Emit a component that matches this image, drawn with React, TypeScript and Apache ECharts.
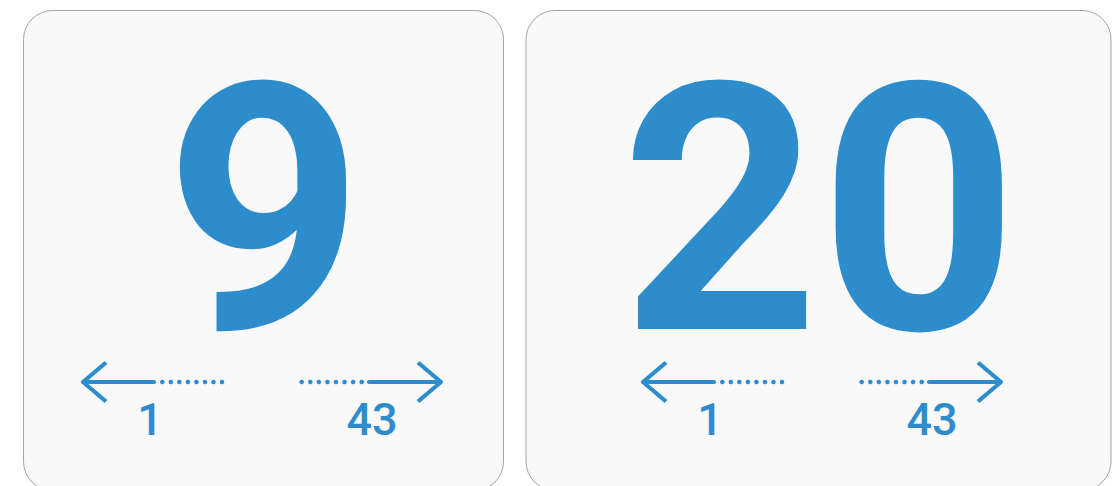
import React, { useEffect, useRef } from "react";
import * as echarts from "echarts";

// ---- data ----
const values: number[] = [9, 20];
const minLabels: string[] = ["1", "1"];
const maxLabels: string[] = ["43", "43"];

// ---- layout / style ----
const BLUE = "#2d8dcc";
const CARD_FILL = "#f9f9f9";
const CARD_STROKE = "#a3a3a3";
const FONT = "Roboto, 'Noto Sans', sans-serif";

const cardLeft = [23.5, 526];
const cardWidth = [480, 585];
const arrowShift = [-1.5, 3.5];
const cardTop = 10.5;
const cardHeight = 480;
const cardRadius = 29;

const NUM_CENTER_Y = 210.5;
const NUM_SIZE = 346;
const ARROW_Y = 382;
const LABEL_Y = 419;
const LABEL_SIZE = 45;

function buildCard(i: number): any[] {
  const x = cardLeft[i];
  const w = cardWidth[i];
  const cc = x + w / 2;
  const c = cc + arrowShift[i];
  const els: any[] = [];
  els.push({
    type: "rect",
    shape: { x, y: cardTop, width: w, height: cardHeight, r: cardRadius },
    style: { fill: CARD_FILL, stroke: CARD_STROKE, lineWidth: 1 },
    silent: true,
  });
  els.push({
    type: "text",
    x: cc + 1,
    y: NUM_CENTER_Y,
    style: {
      text: String(values[i]),
      fill: BLUE,
      font: `bold ${NUM_SIZE}px ${FONT}`,
      textAlign: "center",
      verticalAlign: "middle",
    },
    silent: true,
  });
  const lineStyle = { stroke: BLUE, lineWidth: 4.2, lineCap: "round", lineJoin: "round", fill: "none" };
  // left arrow
  const lt = c - 179;
  els.push({
    type: "polyline",
    shape: { points: [[lt + 23, ARROW_Y - 19.5], [lt, ARROW_Y], [lt + 23, ARROW_Y + 19.5]] },
    style: { ...lineStyle, lineCap: "butt" },
    silent: true,
  });
  els.push({
    type: "line",
    shape: { x1: lt + 1, y1: ARROW_Y, x2: c - 108, y2: ARROW_Y },
    style: lineStyle,
    silent: true,
  });
  for (let k = 0; k < 8; k++) {
    els.push({
      type: "circle",
      shape: { cx: c - 99.7 + k * 8.53, cy: ARROW_Y, r: 2.25 },
      style: { fill: BLUE },
      silent: true,
    });
  }
  // right arrow
  const rt = c + 179;
  for (let k = 0; k < 8; k++) {
    els.push({
      type: "circle",
      shape: { cx: c + 39.7 + k * 8.57, cy: ARROW_Y, r: 2.25 },
      style: { fill: BLUE },
      silent: true,
    });
  }
  els.push({
    type: "line",
    shape: { x1: c + 107, y1: ARROW_Y, x2: rt - 1, y2: ARROW_Y },
    style: lineStyle,
    silent: true,
  });
  els.push({
    type: "polyline",
    shape: { points: [[rt - 23, ARROW_Y - 19.5], [rt, ARROW_Y], [rt - 23, ARROW_Y + 19.5]] },
    style: { ...lineStyle, lineCap: "butt" },
    silent: true,
  });
  // labels
  els.push({
    type: "text",
    x: c - 112,
    y: LABEL_Y,
    style: {
      text: minLabels[i],
      fill: BLUE,
      font: `500 ${LABEL_SIZE}px ${FONT}`,
      textAlign: "center",
      verticalAlign: "middle",
    },
    silent: true,
  });
  els.push({
    type: "text",
    x: c + 110,
    y: LABEL_Y,
    style: {
      text: maxLabels[i],
      fill: BLUE,
      font: `500 ${LABEL_SIZE}px ${FONT}`,
      textAlign: "center",
      verticalAlign: "middle",
    },
    silent: true,
  });
  return els;
}

export default function App() {
  const ref = useRef<HTMLDivElement>(null);
  useEffect(() => {
    if (!ref.current) return;
    const chart = echarts.init(ref.current, null, { renderer: "svg" });
    const elements: any[] = [];
    values.forEach((_, i) => elements.push(...buildCard(i)));
    chart.setOption({
      animation: false,
      backgroundColor: "#ffffff",
      graphic: { elements },
    });
    return () => chart.dispose();
  }, []);
  return (
    <div
      ref={ref}
      style={{ position: "fixed", left: 0, top: 0, width: 1119, height: 486, background: "#fff" }}
    />
  );
}
